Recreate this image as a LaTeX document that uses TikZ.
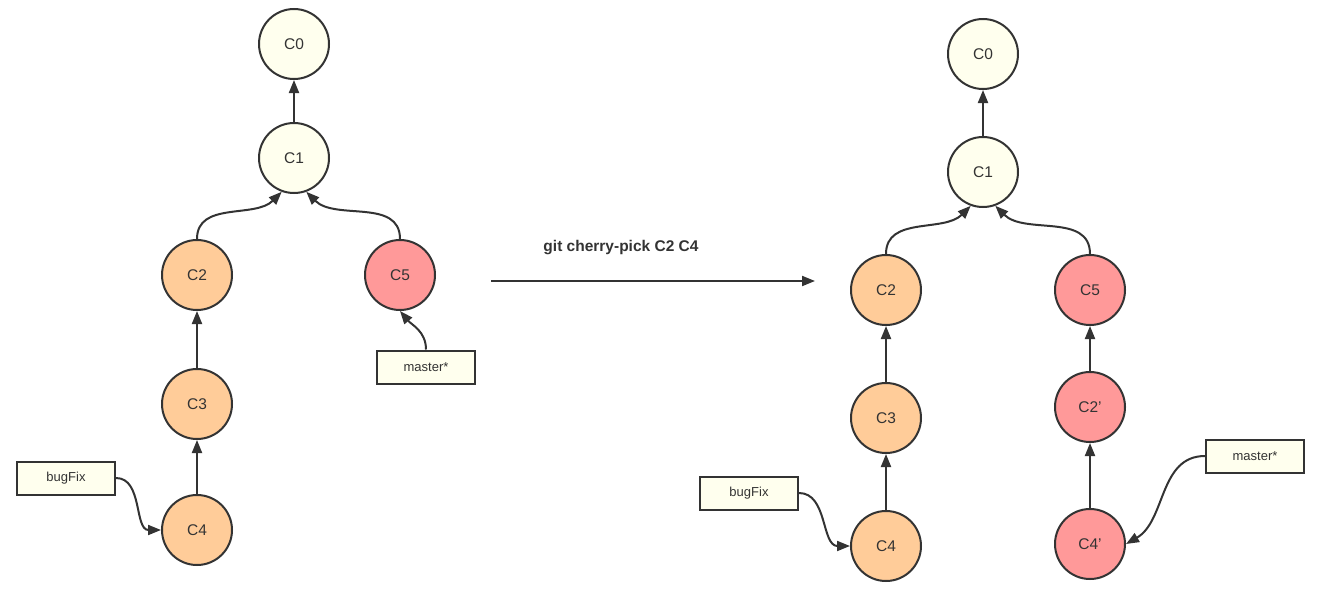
\documentclass[tikz,border=0pt]{standalone}
\usepackage{fontspec}
\setmainfont{Liberation Sans}
\usetikzlibrary{arrows.meta}
\definecolor{ink}{HTML}{333333}
\definecolor{base}{HTML}{FFFFEE}
\definecolor{feat}{HTML}{FFCC99}
\definecolor{pick}{HTML}{FF9999}
\begin{document}
\begin{tikzpicture}[
        x=1pt, y=-1pt,
        commit/.style={circle, draw=ink, line width=2pt, minimum size=70pt, inner sep=0pt, text=ink, font=\fontsize{15.5}{18}\selectfont},
        branch/.style={rectangle, draw=ink, line width=2pt, fill=base, minimum width=98pt, minimum height=33pt, text=ink, font=\fontsize{13}{15}\selectfont},
        link/.style={draw=ink, line width=2pt, -{Triangle[length=13pt,width=10pt]}}
    ]
    \useasboundingbox (0,0) rectangle (1331,608);
    % before
    \node[commit, fill=base] (a0) at (294,44) {C0};
    \node[commit, fill=base] (a1) at (294,158) {C1};
    \node[commit, fill=feat] (a2) at (197,275) {C2};
    \node[commit, fill=feat] (a3) at (197,404) {C3};
    \node[commit, fill=feat] (a4) at (197,530) {C4};
    \node[commit, fill=pick] (a5) at (400,275) {C5};
    \node[branch] (afix) at (66,478) {bugFix};
    \node[branch] (amaster) at (426,367) {master*};
    \draw[link] (a1) -- (a0);
    \draw[link] (a2.north) to[out=90, in=-135] (a1.-110);
    \draw[link] (a5.north) to[out=90, in=-45] (a1.-70);
    \draw[link] (a3) -- (a2);
    \draw[link] (a4) -- (a3);
    \draw[link] (afix.east) to[out=0, in=180] (a4.west);
    \draw[link] (amaster.north) to[out=90, in=-50] (a5.south);
    % command
    \coordinate (from) at (491,281);
    \coordinate (to) at (815,281);
    \draw[link] (from) -- (to);
    \node[text=ink, font=\bfseries\fontsize{15.5}{18}\selectfont] (cmd) at (621,248) {git cherry-pick C2 C4};
    % after
    \node[commit, fill=base] (b0) at (983,54) {C0};
    \node[commit, fill=base] (b1) at (983,172) {C1};
    \node[commit, fill=feat] (b2) at (886,290) {C2};
    \node[commit, fill=feat] (b3) at (886,418) {C3};
    \node[commit, fill=feat] (b4) at (886,546) {C4};
    \node[commit, fill=pick] (b5) at (1090,290) {C5};
    \node[commit, fill=pick] (b6) at (1090,407) {C2'};
    \node[commit, fill=pick] (b7) at (1090,544) {C4'};
    \node[branch] (bfix) at (749,493) {bugFix};
    \node[branch] (bmaster) at (1255,456) {master*};
    \draw[link] (b1) -- (b0);
    \draw[link] (b2.north) to[out=90, in=-135] (b1.-110);
    \draw[link] (b5.north) to[out=90, in=-45] (b1.-70);
    \draw[link] (b3) -- (b2);
    \draw[link] (b4) -- (b3);
    \draw[link] (b6) -- (b5);
    \draw[link] (b7) -- (b6);
    \draw[link] (bfix.east) to[out=0, in=180] (b4.west);
    \draw[link] (bmaster.west) to[out=180, in=30] (b7.east);
\end{tikzpicture}
\end{document}
